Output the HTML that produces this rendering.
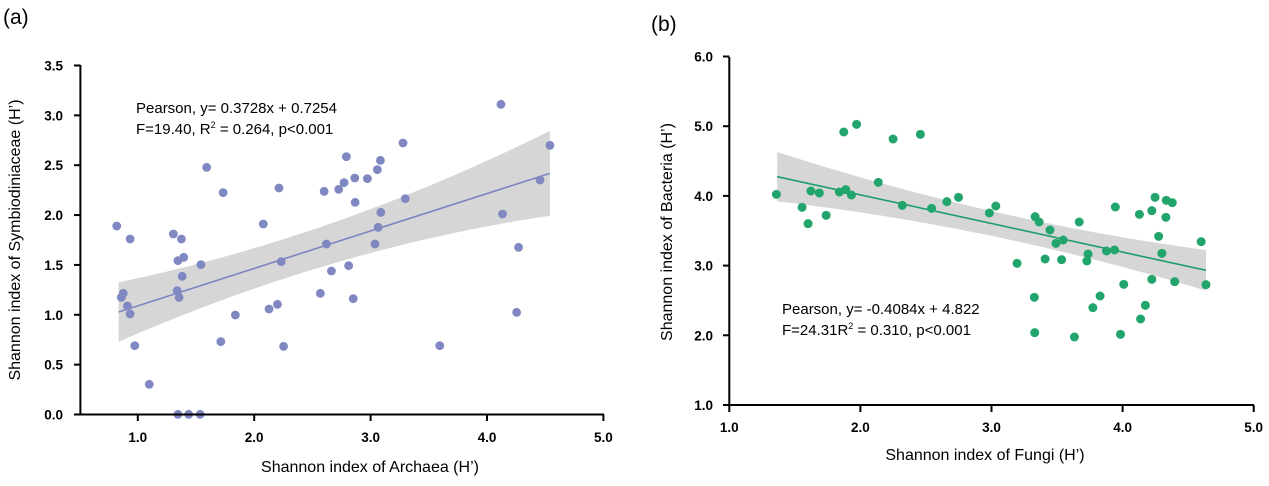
<!DOCTYPE html>
<html><head><meta charset="utf-8"><style>
body{margin:0;background:#fff;width:1269px;height:486px;overflow:hidden}
svg{display:block;font-family:"Liberation Sans",Arial,sans-serif}
.tk{font-size:13.5px;font-weight:bold}
.tt{font-size:16px}
.an{font-size:15px}
</style></head><body>
<svg id="s" width="1269" height="486" viewBox="0 0 1269 486">
<text x="3" y="24" font-size="21">(a)</text>
<text x="651" y="31" font-size="21">(b)</text>
<g id="ga"></g><g id="gb"></g>
<g stroke="#000" stroke-width="2" fill="none">
<path d="M80.4,65 V414.5 H604"/>
<path d="M729.3,57 V405 H1254"/>
</g>
<g id="ticks"></g>
<text class="tt" x="370" y="472" text-anchor="middle">Shannon index of Archaea (H’)</text>
<text class="tt" transform="translate(20,240) rotate(-90)" text-anchor="middle">Shannon index of Symbiodiniaceae (H’)</text>
<text class="tt" x="985" y="460" text-anchor="middle">Shannon index of Fungi (H’)</text>
<text class="tt" transform="translate(672,232) rotate(-90)" text-anchor="middle">Shannon index of Bacteria (H’)</text>
<text class="an" x="136" y="113">Pearson, y= 0.3728x + 0.7254</text>
<text class="an" x="136" y="134">F=19.40, R<tspan dy="-6" font-size="9">2</tspan><tspan dy="6"> = 0.264, p&lt;0.001</tspan></text>
<text class="an" x="782" y="314">Pearson, y= -0.4084x + 4.822</text>
<text class="an" x="782" y="335">F=24.31R<tspan dy="-6" font-size="9">2</tspan><tspan dy="6"> = 0.310, p&lt;0.001</tspan></text>
</svg>
<script>
var NS="http://www.w3.org/2000/svg",s=document.getElementById('s');
function el(t,a,p){var e=document.createElementNS(NS,t);for(var k in a)e.setAttribute(k,a[k]);(p||s).appendChild(e);return e;}
var T=document.getElementById('ticks');
for(var i=0;i<=7;i++){var y=414.5-i*49.86;el('line',{x1:74,x2:80.4,y1:y,y2:y,stroke:'#000','stroke-width':2},T);
var t=el('text',{x:63,y:y+5,'text-anchor':'end','class':'tk'},T);t.textContent=(i*0.5).toFixed(1);}
for(var i=1;i<=5;i++){var x=137.8+(i-1)*116.4;el('line',{x1:x,x2:x,y1:414.5,y2:421,stroke:'#000','stroke-width':2},T);
var t=el('text',{x:x,y:442,'text-anchor':'middle','class':'tk'},T);t.textContent=i.toFixed(1);}
for(var i=1;i<=6;i++){var y=405-(i-1)*69.7;el('line',{x1:723,x2:729.3,y1:y,y2:y,stroke:'#000','stroke-width':2},T);
var t=el('text',{x:713,y:y+5,'text-anchor':'end','class':'tk'},T);t.textContent=i.toFixed(1);}
for(var i=1;i<=5;i++){var x=729.3+(i-1)*131.1;el('line',{x1:x,x2:x,y1:405,y2:412,stroke:'#000','stroke-width':2},T);
var t=el('text',{x:x,y:432,'text-anchor':'middle','class':'tk'},T);t.textContent=i.toFixed(1);}
var ga=document.getElementById('ga'),gb=document.getElementById('gb');
function A(zx,zy){return [zx/2.613,40+zy/3];}
function B(zx,zy){return [640+zx/2.493,60+zy/3];}
function lag(P,x){var r=0;for(var i=0;i<3;i++){var t=P[i][1];for(var j=0;j<3;j++)if(j!=i)t*=(x-P[j][0])/(P[i][0]-P[j][0]);r+=t;}return r;}
function band(g,p1,p2,W,col){
  var top=[],bot=[];
  for(var k=0;k<=60;k++){var x=p1[0]+(p2[0]-p1[0])*k/60;var yc=p1[1]+(p2[1]-p1[1])*k/60;var w=lag(W,x);
    top.push(x.toFixed(1)+','+(yc-w).toFixed(1));bot.unshift(x.toFixed(1)+','+(yc+w).toFixed(1));}
  el('path',{d:'M'+top.join(' L')+' L'+bot.join(' L')+'Z',fill:'#d6d6d6'},g);
  el('line',{x1:p1[0],y1:p1[1],x2:p2[0],y2:p2[1],stroke:col,'stroke-width':1.6},g);
}
band(ga,A(310,816),A(1437,400),[[116.7,30],[371,22],[550,42.5]],'#7d84c2');
var pa=[[305,558],[340,597],[317,772],[322,760],[333,798],[340,822],[352,917],[390,1033],[453,582],[474,597],[465,662],[480,652],[476,709],[463,752],[468,772],[465,1123],[493,1123],[523,1123],[525,674],[540,382],[577,905],[583,458],[615,825],[688,552],[703,807],[725,793],[729,444],[735,665],[741,919],[837,760],[847,454],[853,612],[866,693],[885,448],[899,428],[905,350],[911,677],[923,776],[927,414],[928,487],[960,416],[980,612],[986,389],[988,562],[994,361],[995,517],[1053,309],[1059,476],[1149,917],[1309,193],[1313,522],[1355,622],[1350,817],[1411,420],[1437,316]];
pa.forEach(function(p){var q=A(p[0],p[1]);el('circle',{cx:q[0],cy:q[1],r:4.4,fill:'#8088c2'},ga);});
band(gb,B(342,350),B(1411,631),[[777,24.7],[985,12.5],[1206,20.3]],'#1e9e6a');
var pb=[[340,403],[404,442],[419,491],[426,393],[447,399],[464,466],[497,396],[513,389],[527,405],[508,216],[540,193],[594,367],[631,237],[654,436],[699,223],[727,445],[765,425],[794,412],[871,459],[887,438],[940,610],[985,470],[995,486],[983,712],[984,818],[1010,597],[1022,510],[1037,550],[1055,540],[1051,599],[1083,831],[1095,486],[1117,582],[1114,603],[1129,743],[1147,708],[1163,573],[1183,570],[1185,441],[1198,823],[1206,673],[1245,463],[1248,777],[1260,736],[1276,452],[1276,658],[1284,412],[1293,529],[1301,580],[1311,472],[1312,421],[1327,428],[1333,665],[1399,545],[1411,674]];
pb.forEach(function(p){var q=B(p[0],p[1]);el('circle',{cx:q[0],cy:q[1],r:4.5,fill:'#21a56d'},gb);});
</script>
</body></html>
